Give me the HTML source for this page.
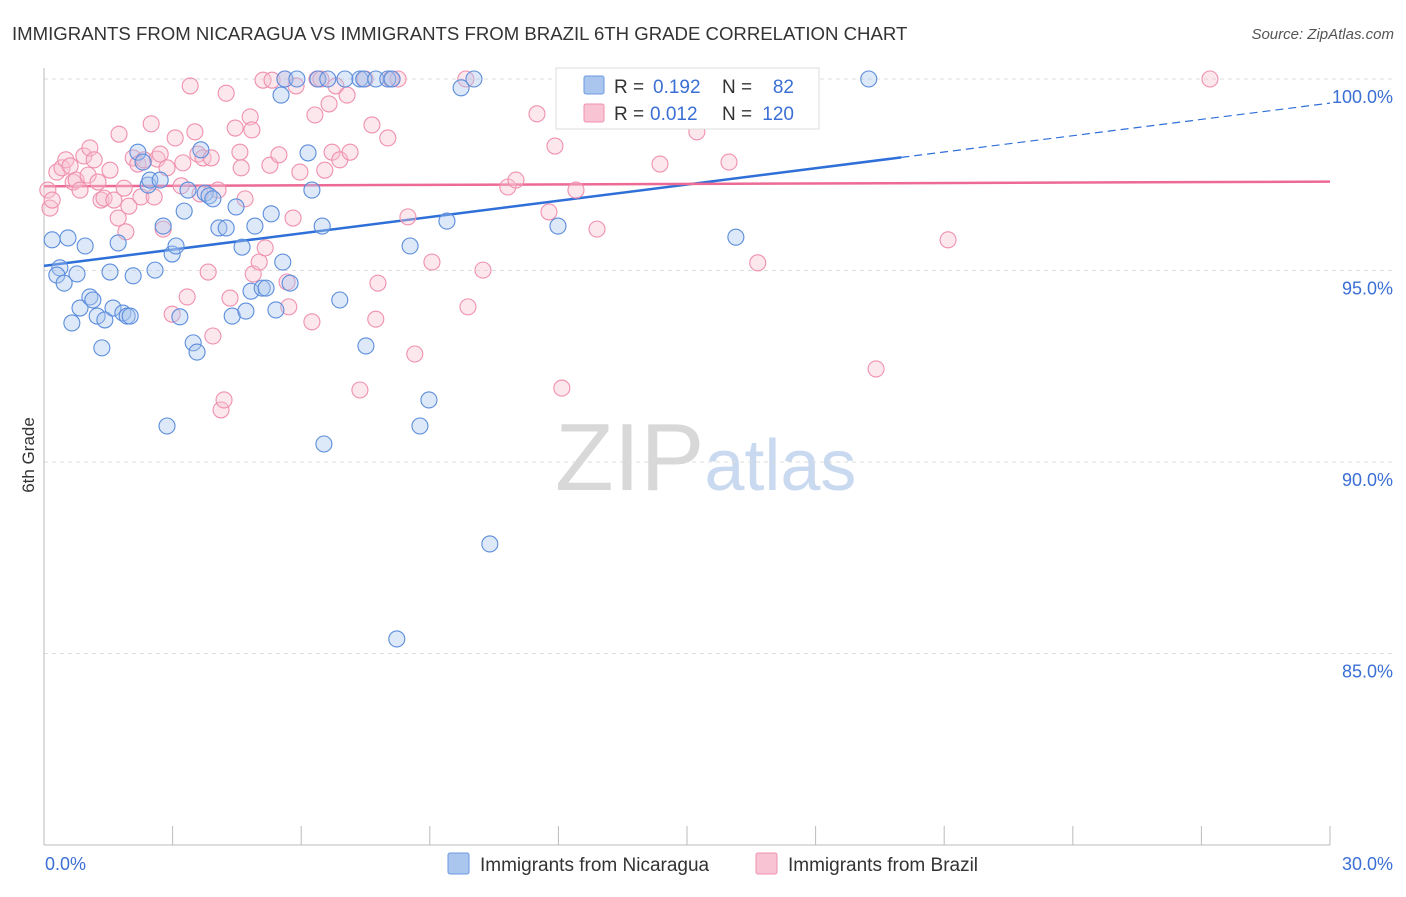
<!DOCTYPE html>
<html><head><meta charset="utf-8"><style>
body{margin:0;background:#fff;font-family:"Liberation Sans",sans-serif}
svg text{font-family:"Liberation Sans",sans-serif}
</style></head><body>
<svg id="chart" width="1406" height="892" xmlns="http://www.w3.org/2000/svg">
<text x="12" y="40" font-size="18.6" fill="#333">IMMIGRANTS FROM NICARAGUA VS IMMIGRANTS FROM BRAZIL 6TH GRADE CORRELATION CHART</text>
<text x="1394" y="39" font-size="15" fill="#555" text-anchor="end" font-style="italic">Source: ZipAtlas.com</text>
<text x="34" y="455" font-size="17" fill="#333" text-anchor="middle" transform="rotate(-90 34 455)">6th Grade</text>
<text x="555" y="490" font-size="96" fill="#d8d8d8" font-family="Liberation Serif">ZIP<tspan fill="#c9d9f0" font-family="Liberation Sans" font-size="72">atlas</tspan></text>
<g id="grid"></g><g id="axes"></g><g id="trend"></g><g id="pts"></g>
<g>
<rect x="556" y="68" width="263" height="61" fill="#fff" stroke="#ddd"/>
<rect x="584" y="76" width="20" height="18" fill="#aac6ee" stroke="#6b9ae0" rx="2"/>
<rect x="584" y="104" width="20" height="18" fill="#f8c3d3" stroke="#f090ae" rx="2"/>
<text x="614" y="93" font-size="19" fill="#333">R =</text>
<text x="653" y="93" font-size="19" fill="#3b6fd4">0.192</text>
<text x="722" y="93" font-size="19" fill="#333">N =</text>
<text x="794" y="93" font-size="19" fill="#3b6fd4" text-anchor="end">82</text>
<text x="614" y="120" font-size="19" fill="#333">R =</text>
<text x="650" y="120" font-size="19" fill="#3b6fd4">0.012</text>
<text x="722" y="120" font-size="19" fill="#333">N =</text>
<text x="794" y="120" font-size="19" fill="#3b6fd4" text-anchor="end">120</text>
</g>
<g>
<rect x="448" y="853" width="21" height="21" fill="#aac6ee" stroke="#6b9ae0" rx="2"/>
<text x="480" y="871" font-size="19" fill="#333">Immigrants from Nicaragua</text>
<rect x="756" y="853" width="21" height="21" fill="#f8c3d3" stroke="#f090ae" rx="2"/>
<text x="788" y="871" font-size="19" fill="#333">Immigrants from Brazil</text>
</g>
</svg>
<script>
const yTicks=[100,95,90,85];
const yTickLabels=["100.0%","95.0%","90.0%","85.0%"];
const xTickLabels=["0.0%","30.0%"];
const blueX=[0.19,0.37,0.30,0.47,0.56,0.65,0.77,0.84,0.96,1.07,1.14,1.24,1.35,1.42,1.54,1.61,1.73,1.84,1.94,2.01,2.08,2.19,2.31,2.43,2.47,2.59,2.71,2.78,2.87,2.99,3.08,3.17,3.27,3.36,3.48,3.57,3.66,3.76,3.85,3.94,4.08,4.25,4.39,4.48,4.62,4.71,4.83,4.92,5.09,5.18,5.30,5.41,5.53,5.57,5.62,5.74,5.90,6.16,6.25,6.39,6.49,6.53,6.62,6.90,7.02,7.37,7.46,7.51,7.74,8.02,8.12,8.23,8.54,8.77,8.98,9.40,9.73,10.03,10.40,11.99,16.14,16.93,19.24];
const blueY=[95.80,95.07,94.88,94.67,95.85,93.63,94.91,94.02,95.64,94.31,94.23,93.81,92.98,93.71,94.96,94.02,95.72,93.89,93.81,93.81,94.86,98.09,97.83,97.23,97.36,95.01,97.36,96.16,90.94,95.43,95.64,93.79,96.55,97.10,93.11,92.87,98.15,97.02,96.95,96.87,96.11,96.11,93.81,96.66,95.61,93.94,94.46,96.16,94.54,94.54,96.48,93.97,99.58,95.22,100,94.67,100,98.07,97.10,100,96.16,90.47,100,94.23,100,100,100,93.03,100,100,100,85.38,95.64,90.94,91.62,96.29,99.77,100,87.86,96.16,95.87,99.58,100];
const pinkX=[0.09,0.14,0.19,0.30,0.42,0.51,0.61,0.68,0.75,0.84,0.93,1.03,1.07,1.17,1.26,1.33,1.40,1.54,1.63,1.73,1.75,1.87,1.91,1.98,2.08,2.19,2.26,2.33,2.50,2.57,2.64,2.71,2.78,2.87,2.99,3.06,3.20,3.24,3.34,3.41,3.52,3.59,3.64,3.71,3.83,3.90,3.94,4.06,4.13,4.20,4.25,4.34,4.46,4.57,4.60,4.69,4.81,4.85,4.88,5.02,5.11,5.16,5.27,5.32,5.48,5.62,5.67,5.71,5.81,5.88,5.97,6.25,6.32,6.37,6.46,6.55,6.65,6.72,6.81,6.90,7.07,7.14,7.37,7.49,7.65,7.74,7.79,8.09,8.02,8.26,8.49,8.65,9.05,9.84,9.89,10.24,10.82,11.01,11.50,11.78,11.92,12.08,12.41,12.90,13.58,14.37,15.23,15.98,16.19,16.65,19.41,21.09,27.20];
const pinkY=[97.10,96.63,96.84,97.57,97.68,97.89,97.73,97.31,97.36,97.10,97.99,97.49,98.20,97.89,97.31,96.84,96.89,97.62,96.84,96.37,98.56,97.15,96.01,96.68,97.94,97.78,96.92,97.89,98.83,96.92,97.91,98.04,96.08,97.68,93.86,98.46,97.21,97.81,94.31,99.82,98.62,98.04,97.00,97.94,94.96,97.94,93.29,97.10,91.36,91.62,99.63,94.28,98.72,98.09,97.68,96.87,99.01,98.67,94.91,95.22,99.97,95.59,97.75,99.97,98.02,100,94.70,94.05,96.37,99.82,97.57,93.66,99.06,100,100,97.62,99.35,98.09,99.82,97.89,99.58,98.09,91.88,100,98.80,93.73,94.67,100,98.46,100,96.40,92.82,95.22,100,94.05,95.01,97.18,97.36,99.09,96.53,98.25,91.93,97.10,96.08,100,97.78,98.62,97.83,100,95.20,92.43,95.80,100];
const blueTrend=[95.12,99.37];
const pinkTrend=[97.2,97.32];
const X=v=>44+v/30*1286, Y=v=>79+(100-v)*38.3;
const NS="http://www.w3.org/2000/svg";
function mk(p,t,a){const e=document.createElementNS(NS,t);for(const k in a)e.setAttribute(k,a[k]);p.appendChild(e);return e;}
const grid=document.getElementById('grid'),axes=document.getElementById('axes');
yTicks.forEach((t,i)=>{
 const l=mk(grid,'line',{x1:44,x2:1393,y1:Y(t),y2:Y(t),stroke:'#ddd','stroke-dasharray':'4 4'});
 
 
 const tx=mk(axes,'text',{x:1393,y:Y(t)+24,'font-size':18,fill:'#3b6fd4','text-anchor':'end'});
 tx.textContent=yTickLabels[i];
 
 
});
const ya=mk(axes,'line',{x1:44,x2:44,y1:68,y2:845,stroke:'#bbb'});


const xa=mk(axes,'line',{x1:44,x2:1330,y1:845,y2:845,stroke:'#bbb'});


for(let k=0;k<=10;k++){const t=mk(axes,'line',{x1:X(k*3),x2:X(k*3),y1:826,y2:845,stroke:'#bbb'});
 
 }
[[0,45,'start'],[30,1393,'end']].forEach((d,i)=>{const t=mk(axes,'text',{x:d[1],y:870,'font-size':18,fill:'#3b6fd4','text-anchor':d[2]});t.textContent=xTickLabels[i];
 
 });
const pts=document.getElementById('pts');
function dots(xs,ys,fill,stroke,name){xs.forEach((x,i)=>{const c=mk(pts,'circle',{cx:X(x),cy:Y(ys[i]),r:8,fill:fill,'fill-opacity':0.4,stroke:stroke,'stroke-width':1.1});
 
 });}
dots(pinkX,pinkY,'#f8c3d3','#f090ae','point-brazil');
dots(blueX,blueY,'#aac6ee','#5b8ddc','point-nicaragua');
const tr=document.getElementById('trend');
const bs=blueTrend[0]+(blueTrend[1]-blueTrend[0])*(20/30);
const b1=mk(tr,'line',{x1:X(0),y1:Y(blueTrend[0]),x2:X(20),y2:Y(bs),stroke:'#2f6fd8','stroke-width':2.5});


const b2=mk(tr,'line',{x1:X(20),y1:Y(bs),x2:X(30),y2:Y(blueTrend[1]),stroke:'#2f6fd8','stroke-width':1.2,'stroke-dasharray':'8 5'});


const p1=mk(tr,'line',{x1:X(0),y1:Y(pinkTrend[0]),x2:X(30),y2:Y(pinkTrend[1]),stroke:'#ec6a93','stroke-width':2.5});


</script>
</body></html>
